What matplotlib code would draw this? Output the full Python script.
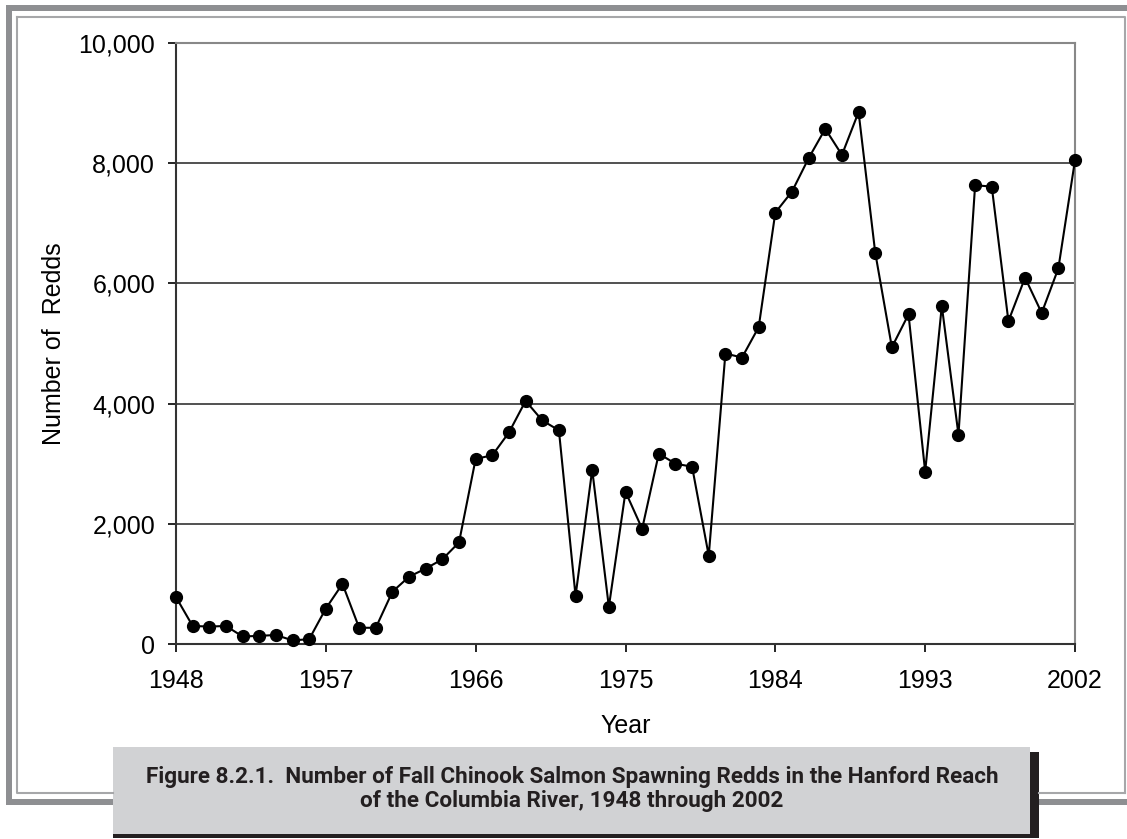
import matplotlib.pyplot as plt
from matplotlib.patches import Rectangle
from matplotlib.ticker import FuncFormatter

# Fall Chinook salmon spawning redds, Hanford Reach
years = list(range(1948, 2003))
redds = [780, 300, 290, 300, 125, 135, 150, 60, 80, 590,
         1000, 270, 270, 870, 1120, 1255, 1410, 1690, 3080, 3140,
         3520, 4045, 3720, 3555, 800, 2900, 617, 2533, 1917, 3167,
         3000, 2950, 1470, 4833, 4767, 5272, 7178, 7528, 8083, 8572,
         8138, 8850, 6512, 4938, 5485, 2867, 5625, 3483, 7633, 7611,
         5372, 6095, 5508, 6250, 8050]
x_ticks = [1948, 1957, 1966, 1975, 1984, 1993, 2002]
y_ticks = [0, 2000, 4000, 6000, 8000, 10000]

caption = ("Figure 8.2.1.  Number of Fall Chinook Salmon Spawning Redds in the Hanford Reach\n"
           "of the Columbia River, 1948 through 2002")

plt.rcParams['font.family'] = ['Liberation Sans', 'DejaVu Sans']

W, H = 1127, 839
fig = plt.figure(figsize=(W / 100, H / 100), dpi=100)

# frame and caption box drawn in pixel coordinates
deco = fig.add_axes([0, 0, 1, 1], zorder=0)
deco.set_xlim(0, W)
deco.set_ylim(H, 0)
deco.axis('off')
bar = '#8e8f92'
thin = '#a6a7a9'
deco.add_patch(Rectangle((6, 5), W - 6, 6, color=bar, lw=0))
deco.add_patch(Rectangle((6, 5), 6, 800, color=bar, lw=0))
deco.add_patch(Rectangle((6, 799), 110, 6, color=bar, lw=0))
deco.add_patch(Rectangle((1036, 799), W - 1036, 6, color=bar, lw=0))
deco.plot([17, 1125, 1125], [17, 17, 793], color=thin, lw=1.5)
deco.plot([17, 17, 113], [17, 793, 793], color=thin, lw=1.5)
deco.plot([1039, 1125], [793, 793], color=thin, lw=1.5)
# shadow + box
deco.add_patch(Rectangle((113, 752), 926, 86, color='#231f20', lw=0))
deco.add_patch(Rectangle((113, 747), 917, 87, color='#d1d2d4', lw=0))
deco.text(572, 789, caption, ha='center', va='center', fontsize=16.2,
          fontweight='bold', color='#231f20', linespacing=1.08,
          family=['Roboto', 'DejaVu Sans'])

ax = fig.add_axes([176 / W, 1 - 644 / H, (1075 - 176) / W, (644 - 43) / H], zorder=1)
ax.plot(years, redds, color='black', lw=1.5, marker='o', markersize=8.5,
        clip_on=False, zorder=3)

ax.set_xlim(1948, 2002)
ax.set_ylim(0, 10000)
ax.set_xticks(x_ticks)
ax.set_yticks(y_ticks)
ax.yaxis.set_major_formatter(FuncFormatter(lambda v, p: f'{int(v):,}'))
ax.tick_params(axis='both', labelsize=18, direction='out', length=6, width=1.2)
ax.tick_params(axis='x', pad=12)
ax.tick_params(axis='y', pad=9)
ax.grid(axis='y', color='#222222', lw=1.1)
ax.set_axisbelow(True)

for side in ['top', 'right']:
    ax.spines[side].set_color('#888888')
    ax.spines[side].set_linewidth(1.5)
for side in ['left', 'bottom']:
    ax.spines[side].set_color('#333333')
    ax.spines[side].set_linewidth(1.5)

ax.set_xlabel('Year', fontsize=18, labelpad=15)
ax.set_ylabel('Number of  Redds', fontsize=18, labelpad=9)

fig.savefig('out.png', dpi=100)
